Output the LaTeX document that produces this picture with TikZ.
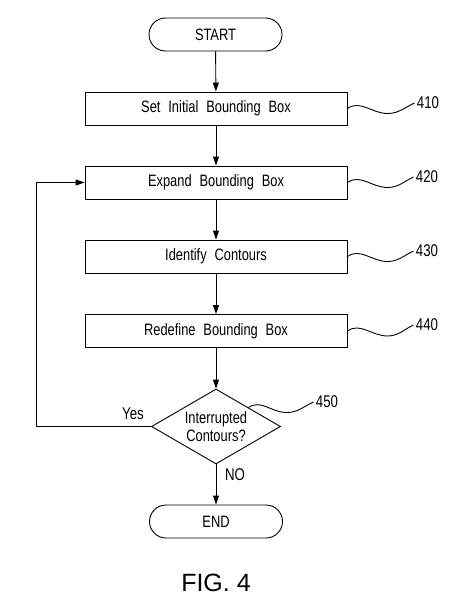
\documentclass[tikz,border=0pt]{standalone}
\usepackage{fontspec}
\setmainfont[FakeStretch=0.78,WordSpace=2.2]{Liberation Sans}
\newfontfamily\figfont{Liberation Sans}
\usetikzlibrary{calc,positioning,shapes,arrows.meta}
\tikzstyle{stepbox}=[shape=rectangle, draw, minimum width=262pt, minimum height=33pt, font=\fontsize{16.5}{18}\selectfont]
\tikzstyle{term}=[shape=rectangle, draw, rounded corners=16.5pt, minimum width=133pt, minimum height=33pt, font=\fontsize{16.5}{18}\selectfont]
\tikzstyle{decide}=[shape=diamond, draw, aspect=1.72, minimum width=129pt, minimum height=75pt, inner sep=0pt, align=center, font=\fontsize{16.5}{17.5}\selectfont]
\tikzstyle{refnum}=[inner sep=0pt, font=\fontsize{17}{18}\selectfont]
\tikzstyle{flow}=[-{Triangle[length=9pt,width=6pt]}]

\begin{document}
\begin{tikzpicture}[x=1pt,y=1pt,line width=0.9pt]
\useasboundingbox (0,0) rectangle (463,-607);

\node (start) [term] at (215.5,-34.5) {START};
\node (b410) [stepbox] at (216,-108.5) {Set Initial Bounding Box};
\node (b420) [stepbox] at (216,-182.5) {Expand Bounding Box};
\node (b430) [stepbox] at (216,-256.5) {Identify Contours};
\node (b440) [stepbox] at (216,-331) {Redefine Bounding Box};
\node (dec) [decide] at (216,-426.5) {Interrupted\\Contours?};
\node (end) [term] at (216,-521.5) {END};

\node (l410) [refnum] at (428,-103) {410};
\node (l420) [refnum] at (427,-177) {420};
\node (l430) [refnum] at (427,-251) {430};
\node (l440) [refnum] at (427,-325) {440};
\node (l450) [refnum] at (327,-402) {450};

\node (yes) [refnum] at (133,-414) {Yes};
\node (no) [refnum] at (235,-475) {NO};
\node (fig) [inner sep=0pt, font=\figfont\fontsize{25}{27}\selectfont] at (216,-583) {FIG. 4};

\draw[flow] (start) -- (b410);
\draw[flow] (b410) -- (b420);
\draw[flow] (b420) -- (b430);
\draw[flow] (b430) -- (b440);
\draw[flow] (b440) -- (dec);
\draw[flow] (dec) -- (end);

\coordinate (loop) at (36,-426.5);
\draw[flow] (dec.west) -- (loop) |- (b420.west);

\draw (b410.east) to[out=35,in=180] ($(b410.east)+(40,-5)$) to[out=0,in=205] ([xshift=-2pt]l410.west);
\draw (b420.east) to[out=35,in=180] ($(b420.east)+(40,-5)$) to[out=0,in=205] ([xshift=-2pt]l420.west);
\draw (b430.east) to[out=35,in=180] ($(b430.east)+(40,-5)$) to[out=0,in=205] ([xshift=-2pt]l430.west);
\draw (b440.east) to[out=35,in=180] ($(b440.east)+(40,-5)$) to[out=0,in=205] ([xshift=-2pt]l440.west);
\draw (dec.north east) to[out=35,in=180] ($(dec.north east)+(38,-5)$) to[out=0,in=205] ([xshift=-2pt]l450.west);

\end{tikzpicture}
\end{document}
